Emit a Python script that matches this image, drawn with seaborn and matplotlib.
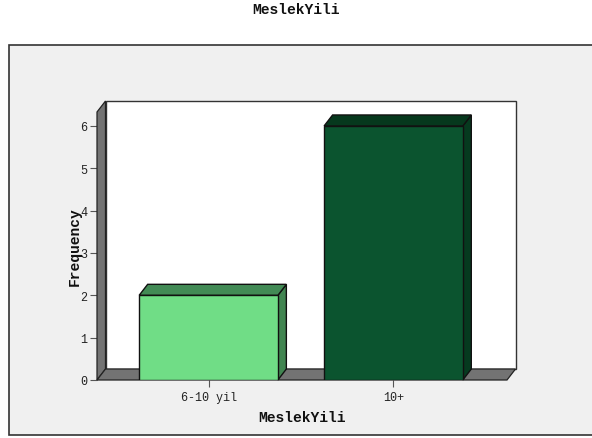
import matplotlib
matplotlib.use("Agg")
import matplotlib.pyplot as plt
import matplotlib.transforms as mtransforms
from matplotlib.patches import Polygon, Rectangle
import seaborn as sns
import pandas as pd

categories = ["6-10 yil", "10+"]
frequencies = [2, 6]
front_colors = ["#70dd86", "#0b542f"]
side_colors = ["#418551", "#063a1f"]
top_colors = ["#428a55", "#06381d"]

sns.set_theme(style="white")
plt.rcParams["font.family"] = ["Liberation Mono", "DejaVu Sans"]

W, H = 592, 439
fig = plt.figure(figsize=(W / 100, H / 100), dpi=100)
fig.patch.set_facecolor("white")

# outer chart frame
fig.patches.append(Rectangle((9 / W, (H - 436) / H), 600 / W, (436 - 46) / H,
                             transform=fig.transFigure, facecolor="#f0f0f0",
                             edgecolor="#333333", linewidth=1.2, zorder=-1))

fig.text(0.5, 1 - 10 / H, "MeslekYili", ha="center", va="center",
         fontsize=10.5, fontweight="bold", color="#111111")

# front plane of the 3D box
left, right, bottom_px, top_px = 97, 507, 381, 113
ax = fig.add_axes([left / W, (H - bottom_px) / H, (right - left) / W,
                   (bottom_px - top_px) / H])
ax.set_facecolor("none")
for s in ax.spines.values():
    s.set_visible(False)

df = pd.DataFrame({"MeslekYili": categories, "Frequency": frequencies})

bar_w = 0.75
sns.barplot(data=df, x="MeslekYili", y="Frequency", hue="MeslekYili",
            palette=front_colors, saturation=1, width=bar_w,
            edgecolor="#111111", linewidth=1.0, ax=ax, legend=False, zorder=3)

ax.set_ylim(0, 6.33)
ax.set_xlim(-0.603, 1.614)

# depth offset for the 3D look
off = mtransforms.ScaledTranslation(8.5 / 100, 11 / 100, fig.dpi_scale_trans)
back_ax = ax.transAxes + off
back_data = ax.transData + off
ident = mtransforms.IdentityTransform()

def add_face(verts, z, **kw):
    ax.add_patch(Polygon(verts, closed=True, transform=ident, clip_on=False,
                         zorder=z, **kw))

wall_grey = "#737373"
# back wall
ax.add_patch(Rectangle((0, 0), 1, 1, transform=back_ax, facecolor="white",
                       edgecolor="#333333", linewidth=1.0, clip_on=False, zorder=0.5))
# left wall and floor
for a, b in [((0, 0), (0, 1)), ((0, 0), (1, 0))]:
    verts = [ax.transAxes.transform(a), ax.transAxes.transform(b),
             back_ax.transform(b), back_ax.transform(a)]
    add_face(verts, 1, facecolor=wall_grey, edgecolor="#222222", linewidth=0.9)

# side and top faces of each bar
for i, (v, sc, tc) in enumerate(zip(frequencies, side_colors, top_colors)):
    x0, x1 = i - bar_w / 2, i + bar_w / 2
    side = [ax.transData.transform((x1, 0)), ax.transData.transform((x1, v)),
            back_data.transform((x1, v)), back_data.transform((x1, 0))]
    top = [ax.transData.transform((x0, v)), ax.transData.transform((x1, v)),
           back_data.transform((x1, v)), back_data.transform((x0, v))]
    add_face(side, 2, facecolor=sc, edgecolor="#111111", linewidth=1.0)
    add_face(top, 2, facecolor=tc, edgecolor="#111111", linewidth=1.0)

ax.set_yticks(range(0, 7))
ax.tick_params(axis="y", left=True, length=5, width=0.8, color="#555555",
               labelsize=8.5, pad=2, labelcolor="#222222")
ax.tick_params(axis="x", bottom=True, length=5, width=0.8, color="#555555",
               labelsize=8.5, pad=3, labelcolor="#222222")
ax.set_xlabel("MeslekYili", fontsize=10.5, fontweight="bold", labelpad=5,
              color="#111111")
ax.set_ylabel("Frequency", fontsize=10.5, fontweight="bold", labelpad=-1,
              color="#111111")

fig.savefig("out.png", dpi=100)
